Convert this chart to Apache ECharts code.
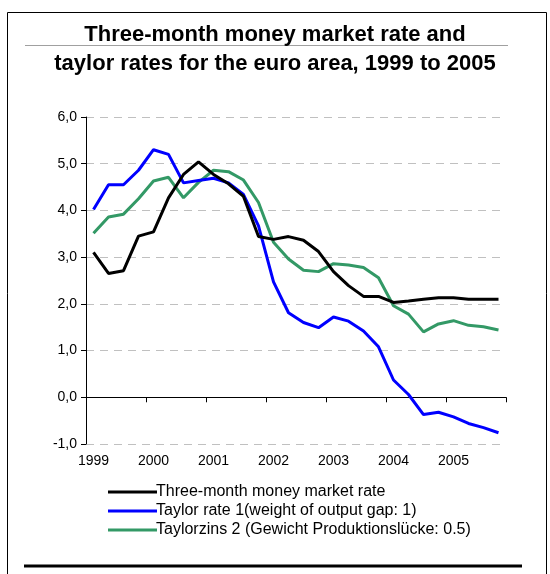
<!DOCTYPE html>
<html><head><meta charset="utf-8">
<script src="https://cdn.jsdelivr.net/npm/echarts@6/dist/echarts.min.js"></script>
<style>html,body{margin:0;padding:0;background:#fff}#c{width:550px;height:574px}</style>
</head><body><div id="c"></div>
<script>
const years = ['1999','2000','2001','2002','2003','2004','2005'];
const quarters = [];
years.forEach(y => { for (let q = 1; q <= 4; q++) quarters.push(y + ' Q' + q); });
const yTicks = [-1, 0, 1, 2, 3, 4, 5, 6];
const titleLines = ['Three-month money market rate and', 'taylor rates for the euro area, 1999 to 2005'];

const moneyMarket = [3.10, 2.65, 2.71, 3.45, 3.54, 4.27, 4.77, 5.04, 4.77, 4.57, 4.30, 3.44,
  3.38, 3.44, 3.36, 3.12, 2.69, 2.39, 2.16, 2.16, 2.03, 2.06, 2.10, 2.13, 2.13, 2.10, 2.10, 2.10];
const taylor1 = [4.02, 4.55, 4.55, 4.86, 5.30, 5.20, 4.59, 4.64, 4.69, 4.59, 4.34, 3.67,
  2.47, 1.81, 1.60, 1.49, 1.72, 1.63, 1.42, 1.08, 0.37, 0.06, -0.37, -0.32, -0.42, -0.56, -0.65, -0.76];
const taylor2 = [3.51, 3.86, 3.92, 4.25, 4.63, 4.71, 4.27, 4.60, 4.86, 4.83, 4.65, 4.17,
  3.32, 2.96, 2.72, 2.69, 2.86, 2.83, 2.78, 2.56, 1.96, 1.78, 1.40, 1.57, 1.64, 1.54, 1.51, 1.44];

const names = ['Three-month money market rate', 'Taylor rate 1(weight of output gap: 1)', 'Taylorzins 2 (Gewicht Produktionslücke: 0.5)'];
const colors = ['#000000', '#0000ff', '#339966'];
const font = '"Liberation Sans", Arial, sans-serif';

const chart = echarts.init(document.getElementById('c'), null, {renderer: 'canvas'});
const mk = (i, d) => ({
  name: names[i], type: 'line', data: d, symbol: 'none', smooth: false,
  lineStyle: {color: colors[i], width: 3}, itemStyle: {color: colors[i]}, z: 3 + (2 - i)
});
const titleStyle = {fontFamily: font, fontSize: 22, fontWeight: 'bold', color: '#000'};
chart.setOption({
  animation: false,
  title: [
    {text: titleLines[0], left: 'center', top: 19, textStyle: titleStyle},
    {text: titleLines[1], left: 'center', top: 48, textStyle: titleStyle}
  ],
  grid: {left: 86, right: 44, top: 117, bottom: 130, containLabel: false},
  xAxis: {
    type: 'category', data: quarters, boundaryGap: true,
    axisLine: {lineStyle: {color: '#000', width: 1}},
    axisTick: {show: true, interval: 3, length: 5, lineStyle: {color: '#000'}},
    axisLabel: {interval: 3, formatter: v => v.slice(0, 4), fontFamily: font, fontSize: 14, color: '#000', margin: 10}
  },
  yAxis: {
    type: 'value', min: yTicks[0], max: yTicks[yTicks.length - 1], interval: 1,
    axisLine: {show: true, lineStyle: {color: '#000', width: 1}},
    axisTick: {show: true, length: 5, lineStyle: {color: '#000'}},
    axisLabel: {formatter: v => v.toFixed(1).replace('.', ','), fontFamily: font, fontSize: 14, color: '#000', margin: 9},
    splitLine: {show: true, lineStyle: {color: '#c0c0c0', type: [8, 6], width: 1}}
  },
  legend: {
    orient: 'vertical', left: 103, top: 479, itemGap: 3,
    itemWidth: 49, itemHeight: 3, icon: 'rect',
    textStyle: {fontFamily: font, fontSize: 16, color: '#000', padding: [0, 0, 0, -6]},
    data: names
  },
  series: [mk(0, moneyMarket), mk(1, taylor1), mk(2, taylor2)],
  graphic: [
    {type: 'rect', shape: {x: 7.5, y: 12.5, width: 539, height: 600}, style: {fill: 'none', stroke: '#000', lineWidth: 1}, silent: true},
    {type: 'line', shape: {x1: 25, y1: 45.5, x2: 508, y2: 45.5}, style: {stroke: '#a0a0a0', lineWidth: 1}, silent: true},
    {type: 'line', shape: {x1: 24, y1: 566, x2: 522, y2: 566}, style: {stroke: '#000', lineWidth: 3}, silent: true}
  ]
});
</script></body></html>
